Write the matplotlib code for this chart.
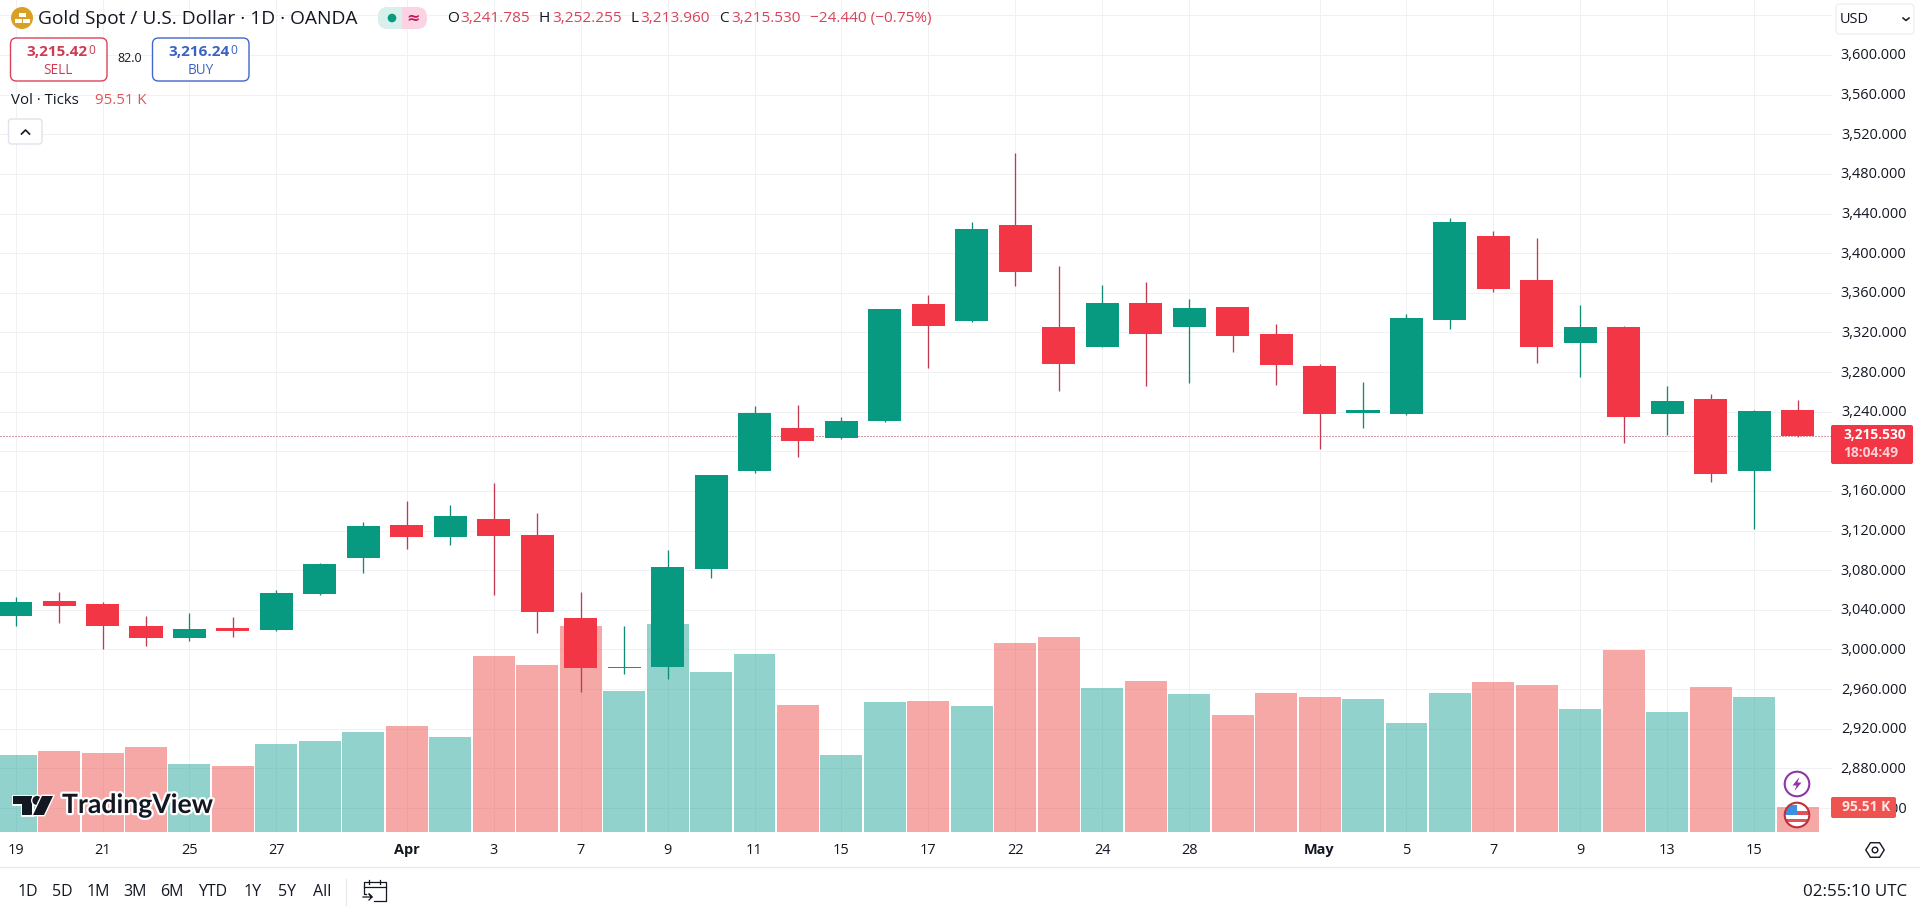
import numpy as np
import matplotlib
matplotlib.use("Agg")
import matplotlib.pyplot as plt
import matplotlib.patheffects as pe
from matplotlib.patches import Circle, FancyBboxPatch, Polygon, Rectangle
from matplotlib.transforms import ScaledTranslation

# Daily candles
opens = [3034, 3049, 3046, 3023.7, 3012, 3021.7, 3019.7, 3056, 3092.7, 3125.7, 3113.5, 3131.7, 3115.6, 3031.8,
         2981.2, 2982.3, 3080.8, 3179.7, 3223.6, 3213, 3230.6, 3348.7, 3331.5, 3428.4, 3325.5, 3305.3, 3349.7,
         3325.5, 3345.7, 3318.4, 3286.1, 3238.7, 3237.7, 3332.5, 3417.3, 3372.9, 3309.3, 3325.5, 3237.7, 3252.8,
         3180.4, 3241.785]
highs = [3053, 3058, 3047.6, 3034, 3037, 3032.8, 3059.7, 3087.3, 3128.7, 3149.9, 3145.8, 3168, 3137.8, 3058,
         3023.7, 3100.4, 3176.5, 3245.8, 3246.8, 3234.7, 3344, 3357.8, 3431.5, 3501, 3387, 3367.9, 3370.9,
         3353.7, 3346, 3328.5, 3288.1, 3270, 3338.6, 3435.5, 3422.4, 3415.3, 3347.7, 3326, 3266, 3257.9,
         3241.7, 3252.255]
lows = [3024, 3027, 3000.5, 3003.5, 3008.6, 3012.6, 3018.7, 3055, 3077.5, 3101.4, 3105.5, 3055, 3016.7, 2957,
        2975.3, 2970.2, 3072, 3178, 3194.6, 3212, 3230, 3284, 3331, 3366.9, 3260.9, 3305, 3265.9,
        3269, 3300.3, 3267, 3202.4, 3223.5, 3237, 3323.5, 3360.8, 3289.2, 3275, 3208.4, 3216.5, 3169,
        3121.6, 3213.96]
closes = [3048, 3044.2, 3024, 3012, 3020.7, 3018.7, 3057, 3086.3, 3124.6, 3113.5, 3134.7, 3114.5, 3037.9, 2981.3,
          2982.8, 3083.3, 3176, 3238.7, 3210.6, 3230.6, 3343.7, 3326.8, 3424.4, 3381, 3288.1, 3349.7, 3318.4,
          3344.6, 3316.4, 3287.1, 3237.7, 3241.7, 3334.6, 3431.4, 3363.8, 3305.3, 3325.5, 3234.6, 3250.8, 3177.1,
          3240.7, 3215.53]
# tick volume in thousands
volumes = [296.5, 311.9, 304.2, 327.4, 261.7, 253.9, 339.0, 350.6, 385.4, 408.6, 366.1, 679.3, 644.5, 795.3,
           544.0, 803.0, 617.4, 687.0, 489.8, 296.5, 501.4, 505.3, 486.0, 729.6, 752.8, 555.6, 582.6,
           532.4, 451.2, 536.2, 520.8, 513.0, 420.2, 536.2, 578.8, 567.2, 474.4, 702.5, 462.8, 559.4,
           520.8, 95.51]

price_ticks = [3600, 3560, 3520, 3480, 3440, 3400, 3360, 3320, 3280, 3240, 3200, 3160, 3120, 3080, 3040, 3000,
               2960, 2920, 2880, 2840]
hidden_price = 3200  # sits under the last price badge
extra_grid = [3640]
date_pos = [0, 2, 4, 6, 9, 11, 13, 15, 17, 19, 21, 23, 25, 27, 30, 32, 34, 36, 38, 40]
date_labels = ["19", "21", "25", "27", "Apr", "3", "7", "9", "11", "15", "17", "22", "24", "28", "May", "5", "7",
               "9", "13", "15"]
range_labels = ["1D", "5D", "1M", "3M", "6M", "YTD", "1Y", "5Y", "All"]
range_x = [27.7, 62, 98.7, 135, 171.7, 212.7, 252.7, 286.7, 321.7]

GREEN = "#089981"
RED = "#F23645"
W, H = 1920, 907
PANE_W, PANE_H = 1832, 832
plt.rcParams["font.family"] = ["Open Sans", "DejaVu Sans"]


def px(size):
    return size * 0.72


fig = plt.figure(figsize=(W / 100, H / 100), dpi=100, facecolor="white")
rect = [0, 1 - PANE_H / H, PANE_W / W, PANE_H / H]

# three layers: grid and axis labels, then volume, then candles
ax_bg = fig.add_axes(rect, zorder=1)
ax_vol = fig.add_axes(rect, zorder=2)
ax = fig.add_axes(rect, zorder=3)
ui = fig.add_axes([0, 0, 1, 1], zorder=4)

x = np.arange(len(opens))
xlim = (-0.359, 41.79)
ylim = (2815.8, 3655.5)
for a in (ax_bg, ax_vol, ax):
    a.set_xlim(*xlim)
    for s in a.spines.values():
        s.set_visible(False)
ax_vol.patch.set_visible(False)
ax.patch.set_visible(False)
ax_vol.axis("off")
ax.axis("off")
ax_bg.set_ylim(*ylim)
ax.set_ylim(*ylim)
ax_vol.set_ylim(0, PANE_H * 3.867)

ax_bg.set_yticks(price_ticks)
ax_bg.set_yticklabels(["" if p == hidden_price else f"{p:,.3f}" for p in price_ticks], fontsize=px(14.5),
                      color="#131722", ha="right", va="center")
ax_bg.yaxis.tick_right()
ax_bg.tick_params(axis="y", length=0, pad=px(74.5))
ax_bg.set_xticks(date_pos)
ax_bg.set_xticklabels(date_labels, fontsize=px(14.5), color="#131722")
ax_bg.tick_params(axis="x", length=0, pad=px(11))
down_1px = ScaledTranslation(0, -1 / 100, fig.dpi_scale_trans)
for lab in ax_bg.get_yticklabels():
    lab.set_transform(lab.get_transform() + down_1px)
for lab in ax_bg.get_xticklabels():
    if lab.get_text() in ("Apr", "May"):
        lab.set_fontweight("bold")
ax_bg.grid(True, color="#eff1f5", linewidth=0.72)
ax_bg.set_axisbelow(True)
for p in extra_grid:
    ax_bg.axhline(p, color="#eff1f5", linewidth=0.72, zorder=0.5)

is_down = [c < o for o, c in zip(opens, closes)]
ax_vol.bar(x, volumes, width=0.965, color=["#ef5350" if d else "#26a69a" for d in is_down], alpha=0.5, linewidth=0)

# candles
ax.vlines(x, lows, highs, colors=["#c23a50" if d else "#0f8a76" for d in is_down], linewidth=0.95)
ax.bar(x, np.abs(np.array(closes) - np.array(opens)), bottom=np.minimum(opens, closes), width=0.76,
       color=[RED if d else GREEN for d in is_down], linewidth=0, zorder=3)
ax.axhline(closes[-1], color="#b5394d", linewidth=0.72, linestyle=(0, (1, 2)), zorder=1)

# ---- screen furniture, in pixel coordinates ----
ui.set_xlim(0, W)
ui.set_ylim(H, 0)
ui.axis("off")
ui.patch.set_visible(False)


def label(xp, yp, s, size=14, color="#131722", ha="left", weight="normal", **kw):
    kw.setdefault("zorder", 8)
    return ui.text(xp, yp, s, fontsize=px(size), color=color, ha=ha, va="center", fontweight=weight, **kw)


def box(x0, y0, w, h, fc="white", ec="none", r=4, lw=1.0, z=5):
    p = FancyBboxPatch((x0, y0), w, h, boxstyle=f"round,pad=0,rounding_size={r}", fc=fc, ec=ec, lw=lw, zorder=z)
    ui.add_patch(p)
    return p


# symbol icon
ui.add_patch(Circle((22, 18), 11, fc="#d9a023", ec="none"))
for bx, by in [(19, 12.5), (15, 18.5), (23, 18.5)]:
    ui.add_patch(Rectangle((bx, by), 6.5, 4, fc="white", ec="none"))
label(38, 18.5, "Gold Spot / U.S. Dollar · 1D · OANDA", size=19.2)

# market status pill
box(378, 7, 49, 22, fc="#fbd3e2", r=10)
ui.add_patch(Rectangle((389, 7), 13, 22, fc="#d8f0ec", ec="none", zorder=5.1))
box(378, 7, 22, 22, fc="#d8f0ec", r=10, z=5.1)
ui.add_patch(Circle((392, 18), 4.3, fc=GREEN, ec="none", zorder=6))
label(413, 18, "≈", size=16, color="#c2185b", ha="center", weight="bold", family=["DejaVu Sans"])

# OHLC line
ohlc_red = "#d9435a"
for xp, s, c in [(447, "O", "#131722"), (460, "3,241.785", ohlc_red), (539, "H", "#131722"),
                 (552, "3,252.255", ohlc_red), (630, "L", "#131722"), (640, "3,213.960", ohlc_red),
                 (719, "C", "#131722"), (731, "3,215.530", ohlc_red), (810, "−24.440 (−0.75%)", ohlc_red)]:
    label(xp, 18.5, s, size=15.4, color=c)

# sell / buy
box(10.5, 38, 96.5, 43, ec="#d9435a", r=6)
label(87.5, 52, "3,215.42", size=15.3, color="#cf3b50", ha="right", weight="bold")
label(88, 50, "0", size=12, color="#cf3b50")
label(58, 70, "SELL", size=13.5, color="#cf3b50", ha="center")
label(130, 59, "82.0", size=12.5, ha="center")
box(152.5, 38, 96.5, 43, ec="#3f68c8", r=6)
label(230, 52, "3,216.24", size=15.3, color="#3a62c4", ha="right", weight="bold")
label(230.5, 50, "0", size=12, color="#3a62c4")
label(201, 70, "BUY", size=13.5, color="#3a62c4", ha="center")

label(11, 101, "Vol · Ticks", size=15)
label(95, 101, "95.51 K", size=15, color="#e0555a")

# collapse button
box(8.5, 119, 33.5, 25, ec="#e0e3eb", r=3)
ui.plot([21.5, 25.5, 29.5], [134, 130, 134], color="#131722", lw=1.2, zorder=6)

# currency box
box(1836, 4, 78, 30, ec="#eef0f3", r=4)
label(1840, 19.5, "USD", size=14.5)
ui.plot([1903, 1906, 1909], [18, 20.5, 18], color="#131722", lw=1.1, zorder=6)

# last price badge
box(1831, 425, 82, 39, fc=RED, r=2)
label(1843, 435, "3,215.530", size=13.8, color="white", weight="bold")
label(1843, 453, "18:04:49", size=13.8, color="#fcd0d4", weight="bold")

# volume badge
box(1831, 797, 65, 21, fc="#ef5350", r=2)
label(1866, 807, "95.51 K", size=13.8, color="#fde6e6", ha="center", weight="bold")

# TradingView mark
stroke = [pe.withStroke(linewidth=3.2, foreground="white")]
tv_parts = [
    Polygon([(13, 796), (32, 796), (32, 815), (22, 815), (22, 804), (13, 804)], closed=True),
    Circle((37, 800.5), 4.6),
    Polygon([(42, 796), (53, 796), (44, 815), (33, 815)], closed=True),
]
for part in tv_parts:
    part.set(fc="#131722", ec="none", zorder=6, path_effects=[pe.withStroke(linewidth=2, foreground="white")])
    ui.add_patch(part)
label(62, 805, "TradingView", size=26.6, weight="bold", path_effects=stroke, family=["Lato", "DejaVu Sans"])

# event markers
ui.add_patch(Circle((1797, 784), 12.3, fc="white", ec="#8e36a8", lw=1.5, zorder=6))
ui.add_patch(Polygon([(1799.5, 777), (1792.5, 785.5), (1796.5, 785.5), (1794.5, 791), (1801.5, 782.5),
                      (1797.5, 782.5)], closed=True, fc="#8e36a8", ec="none", zorder=7))
flag_clip = Circle((1797, 815), 12.3, transform=ui.transData)
ui.add_patch(Circle((1797, 815), 12.3, fc="white", ec="none", zorder=6))
for yy in (811, 818.5):
    ui.add_patch(Rectangle((1784, yy), 26, 3.5, fc="#e0525a", ec="none", zorder=6.5, clip_path=flag_clip))
ui.add_patch(Rectangle((1784, 805), 13, 10, fc="#3d8fe0", ec="none", zorder=6.6, clip_path=flag_clip))
ui.add_patch(Circle((1797, 815), 12.3, fc="none", ec="#c03038", lw=1.5, zorder=7))

# settings icon
theta = np.deg2rad(np.arange(0, 360, 60))
ui.add_patch(Polygon(np.c_[1875 + 9.2 * np.cos(theta), 850 + 8.4 * np.sin(theta)], closed=True, fc="white",
                     ec="#131722", lw=1.0, zorder=6))
ui.add_patch(Circle((1875, 850), 2.8, fc="white", ec="#131722", lw=1.0, zorder=6))

# bottom toolbar
ui.plot([0, W], [867, 867], color="#e6e8ec", lw=0.9, zorder=5)
for xp, s in zip(range_x, range_labels):
    label(xp, 891.5, s, size=16, ha="center")
ui.plot([345.7, 345.7], [879, 905], color="#e6e8ec", lw=0.8)
ui.plot([366, 363.5, 363.5, 386, 386, 374], [894, 894, 882, 882, 901, 901], color="#131722", lw=0.9)
ui.plot([363.5, 386], [887, 887], color="#131722", lw=0.9)
ui.plot([369, 369], [879.5, 884], color="#131722", lw=0.9)
ui.plot([380, 380], [879.5, 884], color="#131722", lw=0.9)
ui.plot([363, 372, 369, 372, 369], [897, 897, 894, 897, 900], color="#131722", lw=0.9)
label(1907, 891.5, "02:55:10 UTC", size=17, ha="right")

fig.savefig("out.png", dpi=100)
